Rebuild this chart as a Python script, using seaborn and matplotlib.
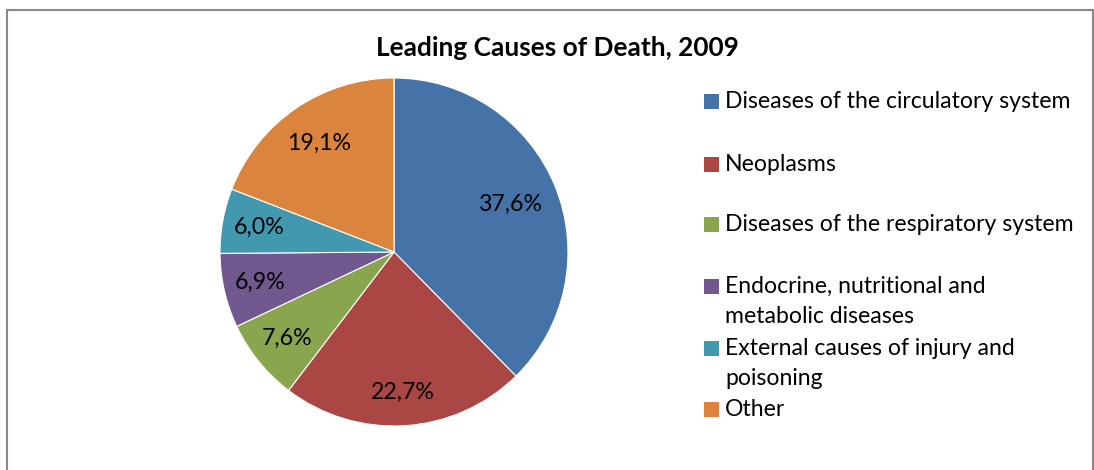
import matplotlib
matplotlib.use("Agg")
import matplotlib.pyplot as plt
import seaborn as sns
import numpy as np
from matplotlib.patches import Rectangle

categories = [
    "Diseases of the circulatory system",
    "Neoplasms",
    "Diseases of the respiratory system",
    "Endocrine, nutritional and\nmetabolic diseases",
    "External causes of injury and\npoisoning",
    "Other",
]
values = [37.6, 22.7, 7.6, 6.9, 6.0, 19.1]
colors = ["#4572A7", "#AA4643", "#89A54E", "#71588F", "#4198AF", "#DB843D"]
title = "Leading Causes of Death, 2009"

sns.set_theme(style="white")
plt.rcParams["font.family"] = ["Lato", "DejaVu Sans"]

W, H = 1094, 470
fig = plt.figure(figsize=(W / 100, H / 100), dpi=100)
fig.patch.set_facecolor("white")

# chart border
fig.patches.append(Rectangle((7 / W, -0.1), (1093 - 7) / W, 1.1 - 10 / H,
                             transform=fig.transFigure, fill=False,
                             edgecolor="#898989", linewidth=1.5))

cx, cy, r = 394, 252, 174
ax = fig.add_axes([(cx - r) / W, (H - cy - r) / H, 2 * r / W, 2 * r / H])
palette = sns.color_palette(colors)

def fmt(p):
    return f"{p:.1f}%".replace(".", ",")

wedges, texts, autotexts = ax.pie(values, colors=palette, startangle=90,
                                  counterclock=False, autopct=fmt,
                                  pctdistance=0.77, radius=1,
                                  wedgeprops=dict(linewidth=0.8, edgecolor="white"),
                                  textprops=dict(fontsize=16.7, color="black"))
# best-fit style label distances (Excel places labels unevenly)
label_dist = [0.72, 0.81, 0.79, 0.79, 0.79, 0.76]
for w, t, d in zip(wedges, autotexts, label_dist):
    ang = np.deg2rad((w.theta1 + w.theta2) / 2)
    t.set_position((d * np.cos(ang), d * np.sin(ang)))

ax.set_xlim(-1, 1)
ax.set_ylim(-1, 1)
ax.set_aspect("equal")
ax.axis("off")

fig.text(557 / W, 1 - 48 / H, title, ha="center", va="center",
         fontsize=18.9, fontweight="bold", color="black")

# legend entries
rows = [101, 164, 224, 286, 348, 409]
for lab, col, y in zip(categories, palette, rows):
    fig.patches.append(Rectangle((704 / W, 1 - (y + 7.5) / H), 15 / W, 15 / H,
                                 transform=fig.transFigure, facecolor=col,
                                 edgecolor="none"))
    fig.text(725 / W, 1 - (y - 10) / H, lab, ha="left", va="top",
             fontsize=16.6, color="black", linespacing=1.55)

fig.savefig("out.png", dpi=100)
